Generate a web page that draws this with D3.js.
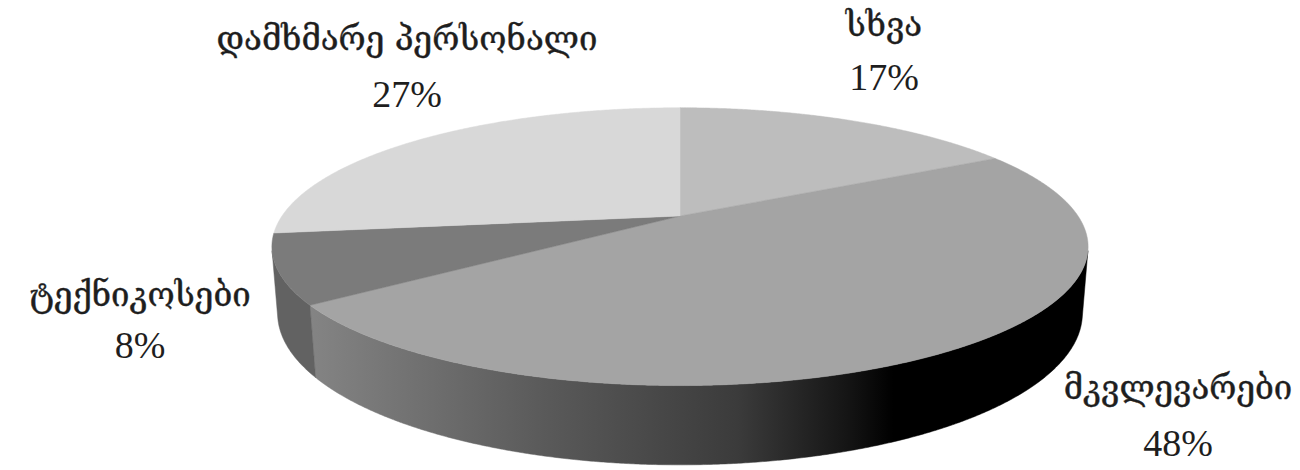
<!DOCTYPE html>
<html>
<head>
<meta charset="utf-8">
<script src="https://cdn.jsdelivr.net/npm/d3@7"></script>
<style>
  body { margin: 0; background: #fff; }
  .lbl { font-family: "DejaVu Serif", serif; fill: #1e1e1e; stroke: #1e1e1e; stroke-width: 0.4; }
  .pct { font-family: "Liberation Serif", "DejaVu Serif", serif; fill: #1e1e1e; }
</style>
</head>
<body>
<div id="chart"></div>
<script>
// data -------------------------------------------------------------
var categories = ["სხვა", "მკვლევარები", "ტექნიკოსები", "დამხმარე პერსონალი"];
var values = [17, 48, 8, 27];
var pctLabels = ["17%", "48%", "8%", "27%"];

// look -------------------------------------------------------------
var topColors = ["#bdbdbd", "#a4a4a4", "#7b7b7b", "#d8d8d8"];
var sideColors = ["#8e8e8e", "url(#sideGrad)", "#626262", "#a0a0a0"];

var svgScreen = { width: 1300, height: 470 };

// perspective settings (fitted to the picture)
var view = {
  cx: 680, cy: 216,
  D: 1, R: 0.234, H: 0.0406,
  f: 1701,
  alpha: Math.asin(0.332)
};

// label anchors: [x, y of name baseline, y of percent baseline]
var labelPos = [
  [884, 36, 90],
  [1178, 399, 456],
  [140, 306, 358],
  [407, 50, 107]
];

var project = function(theta, h, r){
  if (r === undefined) r = view.R;
  var x = r * Math.sin(theta), z = r * Math.cos(theta), y = h;
  var ca = Math.cos(view.alpha), sa = Math.sin(view.alpha);
  var Y = y * ca + z * sa;
  var Z = view.D + z * ca - y * sa;
  return [view.cx + view.f * x / Z, view.cy - view.f * Y / Z];
};

var arcPoints = function(a0, a1, h){
  var pts = [], n = Math.max(2, Math.ceil(Math.abs(a1 - a0) / 0.005));
  for (var i = 0; i <= n; i++){
    pts.push(project(a0 + (a1 - a0) * i / n, h));
  }
  return pts;
};

var svg = d3.select("#chart").append("svg")
  .attr("width", svgScreen.width)
  .attr("height", svgScreen.height);

var defs = svg.append("defs");
var grad = defs.append("linearGradient")
  .attr("id", "sideGrad")
  .attr("x1", 0).attr("x2", 1).attr("y1", 0).attr("y2", 0);
[[0, "#848484"], [0.3, "#5a5a5a"], [0.55, "#3b3b3b"], [0.69, "#151515"], [0.75, "#000"], [1, "#000"]]
  .forEach(function(s){
    grad.append("stop").attr("offset", s[0]).attr("stop-color", s[1]);
  });

var pie = d3.pie().sort(null).value(function(d){ return d; });
var slices = pie(values);
var line = d3.line();

// visible part of the outer wall
var cutoff = Math.acos(-view.R / (view.D * Math.cos(view.alpha)));
var visLo = cutoff, visHi = 2 * Math.PI - cutoff;

var walls = svg.append("g").attr("class", "walls");
slices.forEach(function(s, i){
  var a0 = Math.max(s.startAngle, visLo), a1 = Math.min(s.endAngle, visHi);
  if (a1 <= a0) return;
  var pts = arcPoints(a0, a1, 0).concat(arcPoints(a1, a0, -view.H));
  walls.append("path")
    .attr("d", line(pts) + "Z")
    .attr("fill", sideColors[i])
    .attr("stroke", sideColors[i])
    .attr("stroke-width", 0.5);
});

var tops = svg.append("g").attr("class", "tops");
slices.forEach(function(s, i){
  var pts = [project(0, 0, 0)].concat(arcPoints(s.startAngle, s.endAngle, 0));
  tops.append("path")
    .attr("d", line(pts) + "Z")
    .attr("fill", topColors[i])
    .attr("stroke", topColors[i])
    .attr("stroke-width", 0.5);
});

// labels
var labels = svg.append("g").attr("class", "labels");
categories.forEach(function(name, i){
  labels.append("text")
    .attr("class", "lbl")
    .attr("x", labelPos[i][0]).attr("y", labelPos[i][1])
    .attr("text-anchor", "middle")
    .attr("font-size", 33)
    .text(name);
  labels.append("text")
    .attr("class", "pct")
    .attr("x", labelPos[i][0]).attr("y", labelPos[i][2])
    .attr("text-anchor", "middle")
    .attr("font-size", 38)
    .text(pctLabels[i]);
});
</script>
</body>
</html>
